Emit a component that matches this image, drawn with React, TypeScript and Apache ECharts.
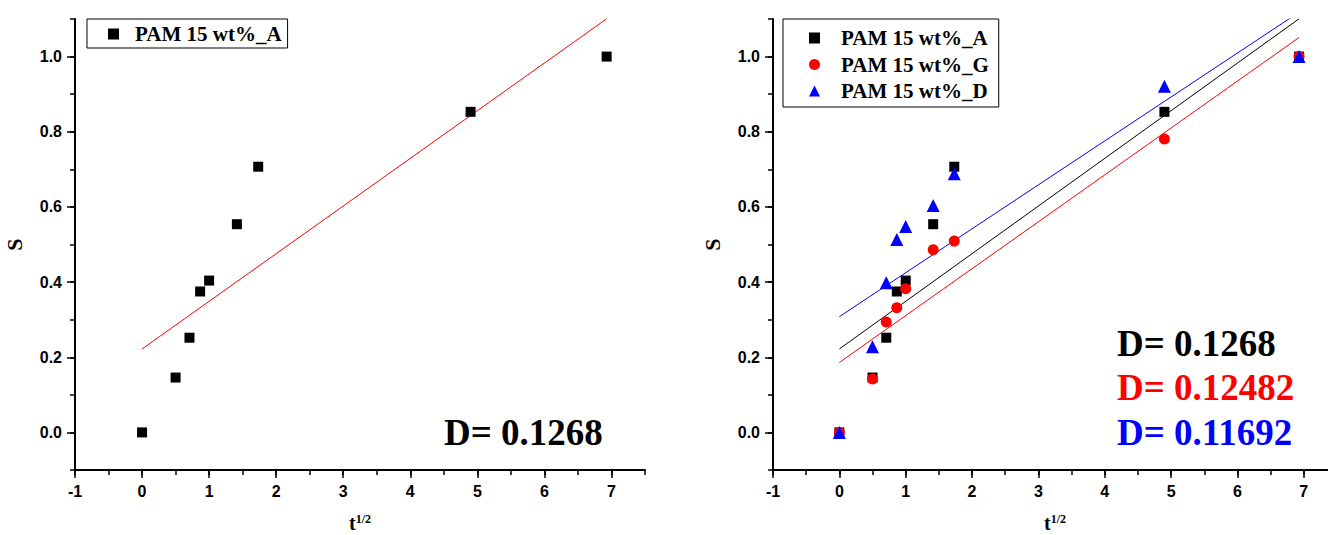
import React, { useEffect, useRef } from "react";
import * as echarts from "echarts";

// ---- data ----
const tHalf = [0, 0.5, 0.707, 0.866, 1, 1.414, 1.732, 4.899, 6.928];
const sA = [0, 0.146, 0.252, 0.375, 0.404, 0.554, 0.707, 0.853, 1.0];
const sG = [0, 0.142, 0.294, 0.332, 0.382, 0.486, 0.509, 0.781, 1.0];
const sD = [0, 0.228, 0.398, 0.513, 0.548, 0.604, 0.688, 0.921, 1.0];
const seriesNames = ["PAM 15 wt%_A", "PAM 15 wt%_G", "PAM 15 wt%_D"];
const seriesColors = ["#000000", "#ff0000", "#0000ff"];
const seriesSymbols = ["rect", "circle", "triangle"];
const fitSlopes = [0.1268, 0.12482, 0.11692];
const fitIntercepts = [0.222, 0.186, 0.308];
const fitRange = [0, 6.93];
const dLabels = ["D= 0.1268", "D= 0.12482", "D= 0.11692"];
const xTicks = [-1, 0, 1, 2, 3, 4, 5, 6, 7];
const yTicks = [0, 0.2, 0.4, 0.6, 0.8, 1.0];
const xRange = [-1, 7.5];
const yRange = [-0.1, 1.1];

const SERIF = '"Liberation Serif", "Times New Roman", serif';
const SANS = '"Liberation Sans", Arial, sans-serif';

const toPoints = (ys: number[]) => tHalf.map((x, i) => [x, ys[i]]);
const fitLine = (k: number) => fitRange.map((x) => [x, fitIntercepts[k] + fitSlopes[k] * x]);

function mainX(gridIndex: number) {
  return {
    type: "value",
    gridIndex,
    position: "bottom",
    min: xRange[0],
    max: xRange[1],
    axisLine: { show: true, onZero: false, lineStyle: { color: "#000", width: 2 } },
    axisTick: { show: true, customValues: xTicks, length: 8, lineStyle: { color: "#000", width: 1.5 } },
    axisLabel: {
      customValues: xTicks,
      margin: 13,
      fontFamily: SANS,
      fontWeight: "bold",
      fontSize: 16,
      color: "#000",
      formatter: (v: number) => String(v),
    },
    splitLine: { show: false },
    name: "{a|t}{b|1/2}",
    nameLocation: "middle",
    nameGap: 43,
    nameTextStyle: {
      rich: {
        a: { fontFamily: SERIF, fontWeight: "bold", fontSize: 20, lineHeight: 20, color: "#000" },
        b: { fontFamily: SERIF, fontWeight: "bold", fontSize: 12, lineHeight: 12, verticalAlign: "top", color: "#000" },
      },
    },
  };
}
function minorX(gridIndex: number) {
  return {
    type: "value",
    gridIndex,
    position: "bottom",
    min: xRange[0],
    max: xRange[1],
    interval: 0.5,
    axisLine: { show: false, onZero: false },
    axisTick: { show: true, length: 5, lineStyle: { color: "#000", width: 1.5 } },
    axisLabel: { show: false },
    splitLine: { show: false },
  };
}
function mainY(gridIndex: number) {
  return {
    type: "value",
    gridIndex,
    position: "left",
    min: yRange[0],
    max: yRange[1],
    axisLine: { show: true, onZero: false, lineStyle: { color: "#000", width: 2 } },
    axisTick: { show: true, customValues: yTicks, length: 8, lineStyle: { color: "#000", width: 1.5 } },
    axisLabel: {
      customValues: yTicks,
      margin: 13,
      fontFamily: SANS,
      fontWeight: "bold",
      fontSize: 16,
      color: "#000",
      formatter: (v: number) => v.toFixed(1),
    },
    splitLine: { show: false },
    name: "S",
    nameLocation: "middle",
    nameRotate: 90,
    nameGap: 50,
    nameTextStyle: { fontFamily: SERIF, fontWeight: "bold", fontSize: 22, color: "#000" },
  };
}
function minorY(gridIndex: number) {
  return {
    type: "value",
    gridIndex,
    position: "left",
    min: yRange[0],
    max: yRange[1],
    interval: 0.1,
    axisLine: { show: false, onZero: false },
    axisTick: { show: true, length: 5, lineStyle: { color: "#000", width: 1.5 } },
    axisLabel: { show: false },
    splitLine: { show: false },
  };
}

function scatter(k: number, ys: number[], axisIndex: number) {
  return {
    type: "scatter",
    name: seriesNames[k],
    xAxisIndex: axisIndex,
    yAxisIndex: axisIndex,
    data: toPoints(ys),
    symbol: seriesSymbols[k],
    symbolSize: k === 0 ? 10 : k === 1 ? 11 : 13,
    itemStyle: { color: seriesColors[k], opacity: 1 },
    z: 3,
  };
}
function fit(k: number, axisIndex: number, color: string) {
  return {
    type: "line",
    xAxisIndex: axisIndex,
    yAxisIndex: axisIndex,
    data: fitLine(k),
    showSymbol: false,
    symbol: "none",
    clip: true,
    lineStyle: { color, width: 1 },
    z: 2,
  };
}

export default function App() {
  const ref = useRef<HTMLDivElement>(null);
  useEffect(() => {
    if (!ref.current) return;
    const chart = echarts.init(ref.current, undefined, { renderer: "svg" });
    const legendText = { fontFamily: SERIF, fontWeight: "bold", fontSize: 21, color: "#000", lineHeight: 22 };
    chart.setOption({
      animation: false,
      backgroundColor: "#fff",
      grid: [
        { left: 75, top: 19, width: 570, height: 451, outerBoundsMode: "none", containLabel: false },
        { left: 773, top: 19, width: 564, height: 451, outerBoundsMode: "none", containLabel: false },
      ],
      xAxis: [mainX(0), minorX(0), mainX(1), minorX(1)],
      yAxis: [mainY(0), minorY(0), mainY(1), minorY(1)],
      legend: [
        {
          data: [seriesNames[0]],
          left: 87,
          top: 19,
          orient: "vertical",
          borderColor: "#000",
          borderWidth: 1,
          padding: [4, 6, 3, 21],
          itemWidth: 11,
          itemHeight: 11,
          textStyle: { ...legendText, padding: [0, 0, 0, 11] },
          selectedMode: false,
        },
        {
          data: seriesNames,
          left: 783,
          top: 19,
          orient: "vertical",
          borderColor: "#000",
          borderWidth: 1,
          itemGap: 4.5,
          padding: [8, 10, 5, 26],
          itemWidth: 11,
          itemHeight: 11,
          textStyle: { ...legendText, padding: [0, 0, 0, 16] },
          selectedMode: false,
        },
      ],
      series: [
        fit(0, 0, "#ff0000"),
        scatter(0, sA, 0),
        fit(0, 2, seriesColors[0]),
        fit(1, 2, seriesColors[1]),
        fit(2, 2, seriesColors[2]),
        scatter(0, sA, 2),
        scatter(1, sG, 2),
        scatter(2, sD, 2),
      ],
      graphic: [
        {
          type: "text",
          x: 444,
          y: 432,
          style: { text: dLabels[0], fill: "#000", fontFamily: SERIF, fontWeight: "bold", fontSize: 37, verticalAlign: "middle" },
        },
        ...dLabels.map((t, i) => ({
          type: "text",
          x: 1117,
          y: 343 + i * 44.5,
          style: { text: t, fill: seriesColors[i], fontFamily: SERIF, fontWeight: "bold", fontSize: 37, verticalAlign: "middle" },
        })),
      ],
    });
    return () => chart.dispose();
  }, []);
  return (
    <div
      ref={ref}
      style={{ position: "fixed", left: 0, top: 0, width: 1328, height: 535, background: "#fff" }}
    />
  );
}
